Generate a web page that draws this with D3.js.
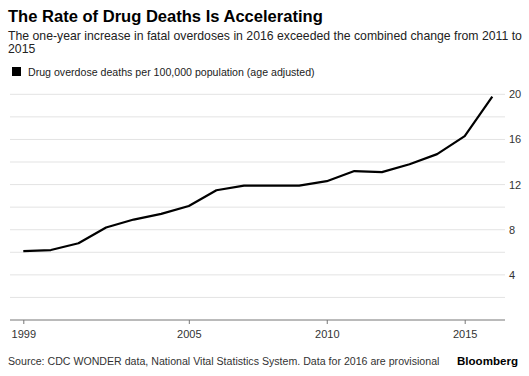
<!DOCTYPE html>
<html><head><meta charset="utf-8">
<script src="https://cdn.jsdelivr.net/npm/d3@7"></script>
<style>
body{margin:0;background:#fff;}
svg{display:block;font-family:"Liberation Sans",Arial,Helvetica,sans-serif;}
</style></head><body>
<svg id="c" width="529" height="376"></svg>
<script>
const years = [1999,2000,2001,2002,2003,2004,2005,2006,2007,2008,2009,2010,2011,2012,2013,2014,2015,2016];
const rates = [6.1,6.2,6.8,8.2,8.9,9.4,10.1,11.5,11.9,11.9,11.9,12.3,13.2,13.1,13.8,14.7,16.3,19.8];
const xTicks = [1999,2005,2010,2015];
const yTicks = [4,8,12,16,20];
const gridVals = [2,4,6,8,10,12,14,16,18,20];

const svg = d3.select("#c");
const x = d3.scaleLinear().domain([1999,2015]).range([23.3,464.7]);
const y = d3.scaleLinear().domain([0,20]).range([320,94.3]);
const left = 10, right = 505;

// scale font size so text spans the target width
function fit(sel, w){
  const cur = sel.node().getComputedTextLength();
  const fs = parseFloat(sel.attr("font-size"));
  sel.attr("font-size", (fs*w/cur).toFixed(2));
  return sel;
}

fit(svg.append("text").attr("x",8).attr("y",22).attr("font-size",17).attr("font-weight","bold").attr("fill","#000")
  .text("The Rate of Drug Deaths Is Accelerating"), 315);
const sub1 = fit(svg.append("text").attr("x",8).attr("y",40).attr("font-size",12.6).attr("fill","#222")
  .text("The one-year increase in fatal overdoses in 2016 exceeded the combined change from 2011 to"), 514);
svg.append("text").attr("x",8).attr("y",53).attr("font-size",sub1.attr("font-size")).attr("fill","#222").text("2015");

svg.append("rect").attr("x",12).attr("y",67).attr("width",9).attr("height",9).attr("fill","#000");
fit(svg.append("text").attr("x",28).attr("y",75.5).attr("font-size",11).attr("fill","#222")
  .text("Drug overdose deaths per 100,000 population (age adjusted)"), 287);

svg.append("g").selectAll("line").data(gridVals).join("line")
  .attr("x1",left).attr("x2",right).attr("y1",d=>y(d)).attr("y2",d=>y(d))
  .attr("stroke","#e3e3e3").attr("stroke-width",1);

svg.append("g").selectAll("text").data(yTicks).join("text")
  .attr("x",509).attr("y",d=>y(d)+4).attr("font-size",11).attr("fill","#333").text(d=>d);

const xa = svg.append("g").attr("transform",`translate(0,${y(0)})`)
  .call(d3.axisBottom(x).tickValues(xTicks).tickFormat(d3.format("d")).tickSize(4).tickPadding(6.5));
xa.select(".domain").remove();
xa.selectAll("line").attr("stroke","#777");
xa.selectAll("text").attr("font-size",11).attr("fill","#333").attr("font-family","Liberation Sans, Arial, sans-serif");
svg.append("line").attr("x1",left).attr("x2",right).attr("y1",y(0)).attr("y2",y(0)).attr("stroke","#777").attr("stroke-width",1);

const line = d3.line().x((d,i)=>x(years[i])).y(d=>y(d));
svg.append("path").datum(rates).attr("d",line).attr("fill","none").attr("stroke","#000")
  .attr("stroke-width",2.2).attr("stroke-linejoin","round");

fit(svg.append("text").attr("x",8).attr("y",364.5).attr("font-size",11).attr("fill","#333")
  .text("Source: CDC WONDER data, National Vital Statistics System. Data for 2016 are provisional"), 432);
const bb = svg.append("text").attr("x",457).attr("y",364.5).attr("font-size",12).attr("font-weight","bold").attr("fill","#000")
  .text("Bloomberg");
fit(bb, 61);
</script></body></html>
